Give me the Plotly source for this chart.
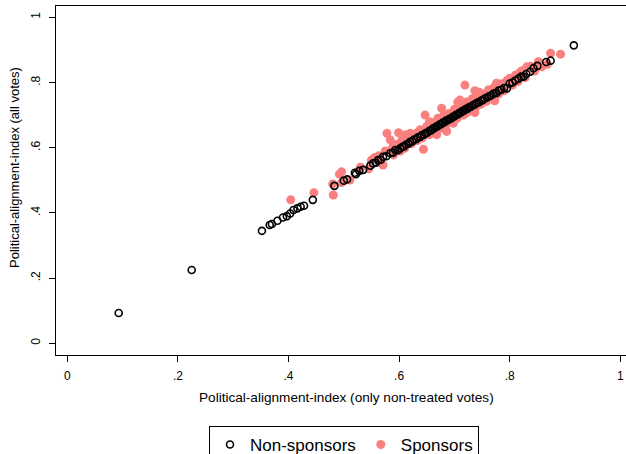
import plotly.graph_objects as go

# ---------------- data ----------------
# Non-sponsors (hollow black circles)
nonsp_x = [
    0.093, 0.225, 0.352, 0.366, 0.370, 0.380, 0.390, 0.397, 0.403, 0.409,
    0.416, 0.422, 0.428, 0.444, 0.483, 0.500, 0.506, 0.520, 0.522, 0.528,
    0.535, 0.548, 0.553, 0.558, 0.562, 0.567, 0.571, 0.577, 0.584, 0.589,
    0.593, 0.598, 0.602, 0.606, 0.609, 0.613, 0.617, 0.620, 0.624, 0.627,
    0.631, 0.634, 0.638, 0.641, 0.645, 0.648, 0.651, 0.655, 0.658, 0.661,
    0.664, 0.667, 0.670, 0.673, 0.676, 0.679, 0.682, 0.685, 0.688, 0.691,
    0.694, 0.697, 0.700, 0.703, 0.706, 0.709, 0.712, 0.715, 0.718, 0.721,
    0.724, 0.727, 0.730, 0.734, 0.737, 0.741, 0.744, 0.748, 0.751, 0.755,
    0.759, 0.763, 0.767, 0.771, 0.776, 0.780, 0.785, 0.790, 0.795, 0.800,
    0.805, 0.810, 0.816, 0.821, 0.825, 0.830, 0.837, 0.843, 0.850, 0.866,
    0.874, 0.916,
]
nonsp_y = [
    0.093, 0.225, 0.345, 0.363, 0.366, 0.376, 0.386, 0.390, 0.398, 0.409,
    0.414, 0.419, 0.422, 0.440, 0.483, 0.499, 0.503, 0.523, 0.519, 0.529,
    0.532, 0.545, 0.552, 0.554, 0.562, 0.563, 0.572, 0.574, 0.583, 0.585,
    0.593, 0.592, 0.598, 0.603, 0.604, 0.610, 0.612, 0.618, 0.619, 0.625,
    0.626, 0.632, 0.633, 0.639, 0.640, 0.645, 0.646, 0.652, 0.653, 0.659,
    0.660, 0.665, 0.666, 0.671, 0.672, 0.677, 0.678, 0.683, 0.684, 0.689,
    0.690, 0.695, 0.696, 0.701, 0.702, 0.707, 0.708, 0.713, 0.714, 0.719,
    0.720, 0.725, 0.726, 0.731, 0.733, 0.738, 0.739, 0.744, 0.746, 0.751,
    0.754, 0.758, 0.761, 0.766, 0.768, 0.775, 0.778, 0.783, 0.782, 0.797,
    0.800, 0.806, 0.812, 0.818, 0.818, 0.826, 0.833, 0.844, 0.851, 0.863,
    0.867, 0.914,
]

# Sponsors (filled salmon dots)
sp_x = [
    0.404, 0.446, 0.481, 0.480, 0.492, 0.496, 0.511, 0.496, 0.550, 0.571,
    0.578, 0.584, 0.599, 0.620, 0.644, 0.647, 0.686, 0.677, 0.706, 0.719,
    0.737, 0.737, 0.773, 0.776, 0.800, 0.831, 0.868, 0.874, 0.892, 0.710,
    0.530, 0.545, 0.556, 0.565, 0.575, 0.590, 0.595, 0.605, 0.610, 0.615,
    0.622, 0.628, 0.633, 0.638, 0.642, 0.650, 0.655, 0.660, 0.665, 0.670,
    0.675, 0.680, 0.684, 0.690, 0.695, 0.700, 0.705, 0.712, 0.716, 0.722,
    0.727, 0.732, 0.738, 0.742, 0.748, 0.753, 0.758, 0.762, 0.768, 0.772,
    0.780, 0.785, 0.790, 0.795, 0.805, 0.810, 0.815, 0.822, 0.828, 0.838,
    0.845, 0.852, 0.858, 0.602, 0.612, 0.655, 0.668, 0.698, 0.720, 0.745,
    0.563, 0.588, 0.632, 0.662, 0.688, 0.728, 0.757, 0.783, 0.818, 0.842,
]
sp_y = [
    0.440, 0.462, 0.455, 0.489, 0.519, 0.493, 0.501, 0.526, 0.562, 0.547,
    0.644, 0.624, 0.646, 0.644, 0.595, 0.700, 0.650, 0.721, 0.740, 0.792,
    0.775, 0.708, 0.744, 0.798, 0.813, 0.848, 0.856, 0.890, 0.887, 0.746,
    0.540, 0.535, 0.570, 0.556, 0.590, 0.578, 0.610, 0.622, 0.598, 0.630,
    0.612, 0.641, 0.622, 0.655, 0.630, 0.665, 0.640, 0.676, 0.652, 0.690,
    0.660, 0.698, 0.668, 0.705, 0.680, 0.718, 0.690, 0.728, 0.700, 0.740,
    0.712, 0.750, 0.722, 0.758, 0.733, 0.765, 0.742, 0.778, 0.752, 0.786,
    0.765, 0.796, 0.775, 0.806, 0.792, 0.822, 0.803, 0.836, 0.815, 0.850,
    0.835, 0.864, 0.848, 0.590, 0.640, 0.680, 0.640, 0.675, 0.705, 0.770,
    0.575, 0.600, 0.645, 0.670, 0.700, 0.722, 0.765, 0.790, 0.830, 0.845,
]

tick_vals = [0, 0.2, 0.4, 0.6, 0.8, 1]
tick_text = ["0", ".2", ".4", ".6", ".8", "1"]

x_title = "Political-alignment-index (only non-treated votes)"
y_title = "Political-alignment-index (all votes)"

FONT = "Arial, Liberation Sans, sans-serif"
SP_COLOR = "rgb(250,128,128)"

fig = go.Figure()
fig.add_trace(go.Scatter(
    x=sp_x, y=sp_y, mode="markers", name="Sponsors", legendrank=2,
    marker=dict(symbol="circle", size=9, color=SP_COLOR, line=dict(width=0)),
))
fig.add_trace(go.Scatter(
    x=nonsp_x, y=nonsp_y, mode="markers", name="Non-sponsors", legendrank=1,
    marker=dict(symbol="circle-open", size=7, color="black",
                line=dict(width=1.6, color="black")),
))

fig.update_layout(
    width=626, height=454,
    margin=dict(l=56, r=0, t=6, b=99, autoexpand=False),
    paper_bgcolor="white", plot_bgcolor="white",
    font=dict(family=FONT, color="black", size=12),
    showlegend=True,
    legend=dict(
        orientation="h", x=(344 - 56) / 570, xanchor="center",
        y=(355 - 426) / 349, yanchor="top",
        font=dict(size=17, family=FONT, color="black"),
        bordercolor="black", borderwidth=1, bgcolor="white",
        itemwidth=30,
    ),
    xaxis=dict(
        range=[-0.0204, 1.0103], showgrid=False, zeroline=False,
        showline=True, linecolor="black", linewidth=1, mirror=True,
        ticks="outside", ticklen=6, tickwidth=1, tickcolor="black",
        tickvals=tick_vals, ticktext=tick_text,
        tickfont=dict(size=12, family=FONT, color="black"),
        ticklabelstandoff=4,
    ),
    yaxis=dict(
        range=[-0.0359, 1.0347], showgrid=False, zeroline=False,
        showline=True, linecolor="black", linewidth=1,
        ticks="outside", ticklen=6, tickwidth=1, tickcolor="black",
        tickvals=tick_vals, ticktext=tick_text, tickangle=-90,
        tickfont=dict(size=12, family=FONT, color="black"),
        ticklabelstandoff=4,
    ),
    annotations=[
        dict(text=x_title, xref="paper", yref="paper",
             x=(346 - 56) / 570, y=(355 - 397.3) / 349,
             xanchor="center", yanchor="middle", showarrow=False,
             font=dict(size=13.6, family=FONT, color="black")),
        dict(text=y_title, xref="paper", yref="paper",
             x=(14 - 56) / 570, y=(355 - 168) / 349, textangle=-90,
             xanchor="center", yanchor="middle", showarrow=False,
             font=dict(size=13, family=FONT, color="black")),
    ],
)

fig.write_html("out.html")
